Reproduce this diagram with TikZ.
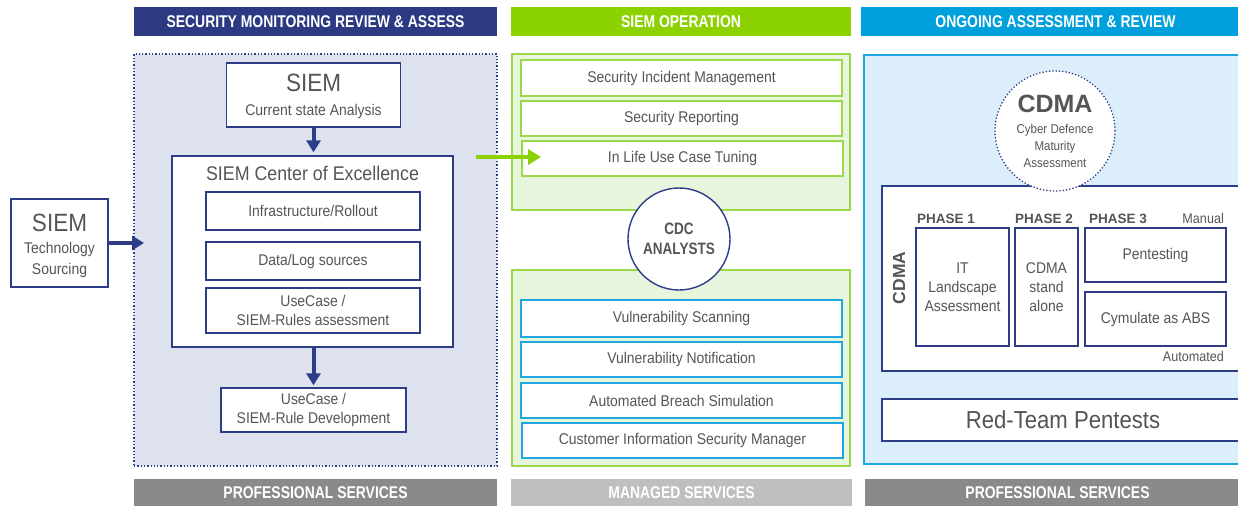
\documentclass[tikz,border=0pt]{standalone}
\usepackage{fontspec}
\setmainfont{Liberation Sans}[FakeStretch=0.9]
\newfontfamily\hdrf{Liberation Sans}[FakeStretch=0.82]
\newfontfamily\regf{Liberation Sans}
\usetikzlibrary{arrows.meta}
\definecolor{navy}{HTML}{2D3D87}
\definecolor{navyhdr}{HTML}{2B3A82}
\definecolor{framefill}{HTML}{DEE2EE}
\definecolor{ghdr}{HTML}{8CD100}
\definecolor{gline}{HTML}{9AD948}
\definecolor{gfill}{HTML}{E8F5DD}
\definecolor{bhdr}{HTML}{00A0DC}
\definecolor{bline}{HTML}{1FA7E1}
\definecolor{bfill}{HTML}{DCEEF9}
\definecolor{greyA}{HTML}{8A8A8A}
\definecolor{greyB}{HTML}{BFBFBF}
\definecolor{txt}{HTML}{555555}
\tikzset{
  hdr/.style={fill=#1, text=white, inner sep=0pt, font=\hdrf\bfseries\fontsize{17}{17}\selectfont},
  nbox/.style={draw=navy, fill=white, line width=1.4pt, inner sep=0pt, align=center, text=txt, font=\fontsize{15.5}{19}\selectfont},
  gbox/.style={nbox, draw=gline, line width=1.8pt},
  bbox/.style={nbox, draw=bline, line width=1.8pt},
  plain/.style={inner sep=0pt, text=txt, font=\fontsize{15.5}{19}\selectfont},
  navyarrow/.style={draw=navy, line width=4pt, -{Triangle[width=14pt,length=12pt]}},
  greenarrow/.style={draw=ghdr, line width=4.5pt, -{Triangle[width=15pt,length=13pt]}},
}
\begin{document}
\begin{tikzpicture}[x=1pt,y=-1pt]
\useasboundingbox (0,0) rectangle (1238,506);
\clip (0,0) rectangle (1238,506);
\fill[white] (0,0) rectangle (1238,506);

% ---------- left column ----------
\node[hdr=navyhdr, minimum width=363pt, minimum height=29pt] (hL) at (315.5,21.5) {SECURITY MONITORING REVIEW \& ASSESS};
\node[draw=navy, fill=framefill, dotted, line width=1.3pt, minimum width=363pt, minimum height=412pt, inner sep=0pt] (fL) at (315.5,260) {};
\node[nbox, minimum width=174pt, minimum height=64pt] (cur) at (313.5,95) {};
\node[plain, anchor=base, font=\fontsize{25}{25}\selectfont] (curT) at (313.5,91) {SIEM};
\node[plain, anchor=base] (curS) at (313.5,115.5) {Current state Analysis};
\node[nbox, minimum width=281pt, minimum height=191pt] (coe) at (312.5,251.5) {};
\node[plain, anchor=base, font=\fontsize{19.8}{20}\selectfont] (coeT) at (312.5,180) {SIEM Center of Excellence};
\node[nbox, minimum width=214pt, minimum height=38pt] (infra) at (313,211) {Infrastructure/Rollout};
\node[nbox, minimum width=214pt, minimum height=38pt] (data) at (313,261) {Data/Log sources};
\node[nbox, minimum width=214pt, minimum height=45pt] (uca) at (313,310.5) {UseCase /\\SIEM-Rules assessment};
\node[nbox, minimum width=185pt, minimum height=44pt] (ucd) at (313.5,410) {UseCase /\\SIEM-Rule Development};
\node[nbox, minimum width=97pt, minimum height=88pt] (tech) at (59.5,243) {};
\node[plain, anchor=base, font=\fontsize{25}{25}\selectfont] (techT) at (59.5,231) {SIEM};
\node[plain, anchor=base] (techA) at (59.5,253.5) {Technology};
\node[plain, anchor=base] (techB) at (59.5,274.5) {Sourcing};
\node[hdr=greyA, minimum width=363pt, minimum height=27pt] (fL2) at (315.5,492.5) {PROFESSIONAL SERVICES};
\coordinate (tT) at (144,243);
\draw[navyarrow, shorten >=3pt] (cur.south) -- (cur.south |- coe.north);
\draw[navyarrow, shorten >=2pt] (ucd.north |- coe.south) -- (ucd.north);
\draw[navyarrow] (tech.east) -- (tT);

% ---------- middle column ----------
\node[hdr=ghdr, minimum width=340pt, minimum height=29pt] (hM) at (681,21.5) {SIEM OPERATION};
\node[draw=gline, fill=gfill, line width=1.8pt, minimum width=338pt, minimum height=156pt, inner sep=0pt] (upM) at (681,132) {};
\node[gbox, minimum width=321pt, minimum height=36pt] (sim) at (681.5,78) {Security Incident Management};
\node[gbox, minimum width=321pt, minimum height=35pt] (rep) at (681.5,118.5) {Security Reporting};
\node[gbox, minimum width=321pt, minimum height=35pt] (tun) at (682.5,158.5) {In Life Use Case Tuning};
\node[draw=gline, fill=gfill, line width=1.8pt, minimum width=338pt, minimum height=196pt, inner sep=0pt] (loM) at (681,368) {};
\node[bbox, minimum width=321pt, minimum height=37pt] (vs) at (681.5,318.5) {Vulnerability Scanning};
\node[bbox, minimum width=321pt, minimum height=35pt] (vn) at (681.5,359.5) {Vulnerability Notification};
\node[bbox, minimum width=321pt, minimum height=35pt] (abs) at (681.5,400.5) {Automated Breach Simulation};
\node[bbox, minimum width=321pt, minimum height=35pt] (cism) at (682.5,440.5) {Customer Information Security Manager};
\node[circle, draw=navy, fill=white, line width=1.4pt, minimum size=102pt, inner sep=0pt] (cdc) at (679,239) {};
\node[plain, anchor=base, font=\hdrf\bfseries\fontsize{16.5}{16}\selectfont] (cdcA) at (679,234.5) {CDC};
\node[plain, anchor=base, font=\hdrf\bfseries\fontsize{16.5}{16}\selectfont] (cdcB) at (679,254.5) {ANALYSTS};
\node[hdr=greyB, minimum width=341pt, minimum height=27pt] (fM) at (681.5,492.5) {MANAGED SERVICES};

% ---------- right column ----------
\node[hdr=bhdr, minimum width=389pt, minimum height=29pt] (hR) at (1055.5,21.5) {ONGOING ASSESSMENT \& REVIEW};
\node[draw=bline, fill=bfill, line width=1.8pt, minimum width=386pt, minimum height=409pt, inner sep=0pt] (rbox) at (1057,259.5) {};
\node[nbox, minimum width=362pt, minimum height=185pt] (inner) at (1063,278.5) {};
\node[nbox, minimum width=93pt, minimum height=118pt] (p1) at (962.5,287) {IT\\Landscape\\Assessment};
\node[nbox, minimum width=63pt, minimum height=118pt] (p2) at (1046.5,287) {CDMA\\stand\\alone};
\node[nbox, minimum width=141pt, minimum height=54pt] (pent) at (1155.5,255) {Pentesting};
\node[nbox, minimum width=141pt, minimum height=54pt] (cym) at (1155.5,319) {Cymulate as ABS};
\node[plain, anchor=base west, font=\regf\bfseries\fontsize{13.5}{14}\selectfont] (ph1) at (917,223) {PHASE 1};
\node[plain, anchor=base west, font=\regf\bfseries\fontsize{13.5}{14}\selectfont] (ph2) at (1015,223) {PHASE 2};
\node[plain, anchor=base west, font=\regf\bfseries\fontsize{13.5}{14}\selectfont] (ph3) at (1089,223) {PHASE 3};
\node[plain, anchor=base east, font=\fontsize{14}{14}\selectfont] (man) at (1224,223) {Manual};
\node[plain, anchor=base east, font=\fontsize{14}{14}\selectfont] (aut) at (1224,361) {Automated};
\node[plain, rotate=90, font=\regf\bfseries\fontsize{17.5}{17}\selectfont] (vcd) at (899,278) {CDMA};
\node[nbox, minimum width=362pt, minimum height=42pt, font=\fontsize{24.6}{25}\selectfont] (red) at (1063,420) {Red-Team Pentests};
\node[circle, draw=navy, fill=white, dotted, line width=1.3pt, minimum size=120pt, inner sep=0pt] (cdma) at (1055,131) {};
\node[plain, anchor=base, font=\regf\bfseries\fontsize{25}{25}\selectfont] (cdmaT) at (1055,112) {CDMA};
\node[plain, anchor=base, font=\fontsize{12.8}{13}\selectfont] (cdmaA) at (1055,133.6) {Cyber Defence};
\node[plain, anchor=base, font=\fontsize{12.8}{13}\selectfont] (cdmaB) at (1055,150.6) {Maturity};
\node[plain, anchor=base, font=\fontsize{12.8}{13}\selectfont] (cdmaC) at (1055,167.6) {Assessment};
\node[hdr=greyA, minimum width=385pt, minimum height=27pt] (fR) at (1057.5,492.5) {PROFESSIONAL SERVICES};

% ---------- green arrow ----------
\coordinate (g1) at (476,157);
\coordinate (g2) at (541,157);
\draw[greenarrow] (g1) -- (g2);
\end{tikzpicture}
\end{document}
